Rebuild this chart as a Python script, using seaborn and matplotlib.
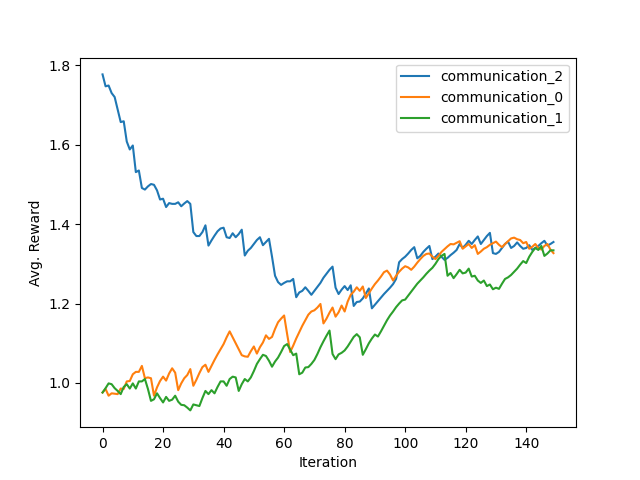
"""
Avg. reward per iteration for the three communication settings.
Default matplotlib look, lines drawn with seaborn.
"""

import numpy as np
import pandas as pd
import seaborn as sns
import matplotlib
matplotlib.use("Agg")
import matplotlib.pyplot as plt

# === Data ===
iterations = np.arange(150)

communication_2 = [
    1.777, 1.747, 1.749, 1.730, 1.720, 1.688, 1.657, 1.659, 1.608, 1.588,
    1.598, 1.531, 1.535, 1.491, 1.487, 1.495, 1.501, 1.499, 1.485, 1.462,
    1.464, 1.443, 1.453, 1.451, 1.451, 1.455, 1.445, 1.452, 1.458, 1.451,
    1.380, 1.370, 1.370, 1.380, 1.397, 1.346, 1.359, 1.371, 1.382, 1.389,
    1.391, 1.367, 1.365, 1.377, 1.367, 1.375, 1.386, 1.321, 1.333, 1.340,
    1.350, 1.360, 1.367, 1.347, 1.355, 1.363, 1.318, 1.270, 1.254, 1.247,
    1.252, 1.256, 1.256, 1.262, 1.216, 1.228, 1.232, 1.241, 1.232, 1.222,
    1.232, 1.242, 1.252, 1.265, 1.275, 1.285, 1.293, 1.240, 1.224, 1.235,
    1.244, 1.234, 1.246, 1.194, 1.204, 1.205, 1.213, 1.225, 1.238, 1.188,
    1.197, 1.206, 1.215, 1.224, 1.232, 1.240, 1.249, 1.262, 1.304, 1.312,
    1.318, 1.326, 1.335, 1.342, 1.314, 1.320, 1.330, 1.338, 1.345, 1.312,
    1.318, 1.326, 1.318, 1.310, 1.315, 1.322, 1.328, 1.335, 1.350, 1.340,
    1.348, 1.358, 1.350, 1.360, 1.369, 1.350, 1.360, 1.370, 1.378, 1.327,
    1.325, 1.330, 1.340, 1.350, 1.356, 1.340, 1.345, 1.354, 1.345, 1.338,
    1.340, 1.347, 1.335, 1.340, 1.345, 1.352, 1.358, 1.346, 1.350, 1.355,
]

communication_0 = [
    0.976, 0.985, 0.968, 0.974, 0.973, 0.972, 0.986, 0.985, 1.004, 1.005,
    1.022, 1.028, 1.028, 1.043, 1.012, 1.014, 1.012, 0.968, 0.989, 1.005,
    1.016, 1.006, 1.024, 1.037, 1.026, 0.982, 0.999, 1.012, 1.020, 1.035,
    0.993, 1.008, 1.025, 1.040, 1.046, 1.028, 1.043, 1.058, 1.072, 1.085,
    1.098, 1.115, 1.130, 1.115, 1.100, 1.085, 1.070, 1.067, 1.066, 1.080,
    1.092, 1.074, 1.090, 1.102, 1.120, 1.111, 1.116, 1.136, 1.153, 1.162,
    1.170, 1.123, 1.078, 1.094, 1.112, 1.128, 1.144, 1.158, 1.172, 1.180,
    1.183, 1.190, 1.199, 1.150, 1.162, 1.177, 1.190, 1.167, 1.178, 1.195,
    1.180, 1.205, 1.222, 1.230, 1.241, 1.232, 1.243, 1.214, 1.226, 1.238,
    1.249, 1.258, 1.268, 1.279, 1.283, 1.273, 1.258, 1.270, 1.280, 1.288,
    1.294, 1.291, 1.285, 1.293, 1.303, 1.312, 1.320, 1.325, 1.326, 1.318,
    1.312, 1.320, 1.330, 1.337, 1.344, 1.350, 1.349, 1.353, 1.357, 1.338,
    1.344, 1.350, 1.340, 1.347, 1.325, 1.331, 1.338, 1.342, 1.348, 1.352,
    1.356, 1.348, 1.342, 1.350, 1.357, 1.364, 1.366, 1.362, 1.360, 1.352,
    1.355, 1.338, 1.343, 1.350, 1.340, 1.336, 1.345, 1.350, 1.336, 1.327,
]

communication_1 = [
    0.976, 0.987, 0.999, 0.997, 0.987, 0.980, 0.972, 0.990, 0.997, 0.986,
    0.999, 0.986, 1.004, 1.004, 1.010, 0.985, 0.955, 0.959, 0.974, 0.962,
    0.951, 0.965, 0.955, 0.958, 0.968, 0.953, 0.945, 0.944, 0.938, 0.931,
    0.946, 0.944, 0.942, 0.962, 0.980, 0.972, 0.982, 0.974, 0.990, 1.004,
    1.004, 0.993, 1.010, 1.016, 1.014, 0.980, 0.997, 1.010, 1.004, 1.014,
    1.030, 1.048, 1.060, 1.071, 1.068, 1.056, 1.041, 1.054, 1.064, 1.078,
    1.093, 1.098, 1.084, 1.070, 1.074, 1.022, 1.026, 1.039, 1.040, 1.048,
    1.058, 1.073, 1.090, 1.105, 1.119, 1.132, 1.073, 1.060, 1.072, 1.076,
    1.082, 1.092, 1.104, 1.116, 1.123, 1.115, 1.071, 1.085, 1.100, 1.112,
    1.122, 1.117, 1.130, 1.144, 1.158, 1.170, 1.180, 1.191, 1.200, 1.208,
    1.210, 1.220, 1.230, 1.240, 1.250, 1.258, 1.266, 1.275, 1.283, 1.290,
    1.300, 1.312, 1.320, 1.325, 1.270, 1.277, 1.264, 1.274, 1.285, 1.276,
    1.278, 1.288, 1.268, 1.270, 1.258, 1.252, 1.258, 1.244, 1.248, 1.236,
    1.240, 1.237, 1.250, 1.262, 1.266, 1.272, 1.280, 1.288, 1.298, 1.307,
    1.302, 1.318, 1.330, 1.340, 1.335, 1.345, 1.320, 1.326, 1.334, 1.334,
]

# legend order as in the reference
SERIES = [
    ("communication_2", communication_2, "tab:blue"),
    ("communication_0", communication_0, "tab:orange"),
    ("communication_1", communication_1, "tab:green"),
]


def main():
    fig, ax = plt.subplots(figsize=(6.4, 4.8), dpi=100)

    for name, values, color in SERIES:
        df = pd.DataFrame({"Iteration": iterations, "Avg. Reward": values})
        sns.lineplot(data=df, x="Iteration", y="Avg. Reward", ax=ax,
                     color=color, label=name, linewidth=1.5)

    ax.set_xlabel("Iteration")
    ax.set_ylabel("Avg. Reward")
    ax.legend(loc="upper right")

    fig.savefig("out.png", dpi=100)
    plt.close(fig)


if __name__ == "__main__":
    main()
